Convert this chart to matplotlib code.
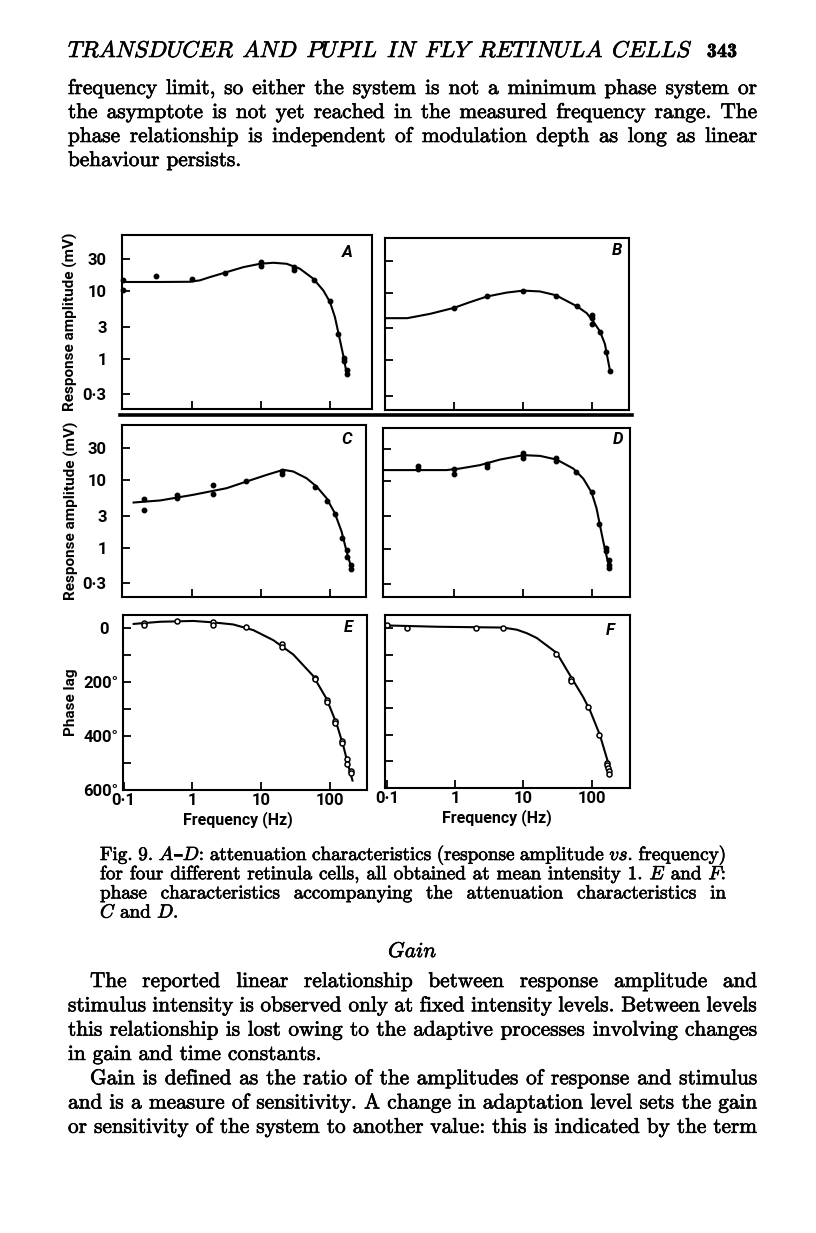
import matplotlib
matplotlib.use("Agg")
import matplotlib.pyplot as plt
import matplotlib.patheffects as pe
from matplotlib.lines import Line2D
from matplotlib.ticker import NullLocator

# values (frequency in Hz, amplitude in mV, phase in deg)
a_freq = [0.1, 0.1, 0.3, 1, 3, 10, 10, 30, 30, 60, 100, 130, 160, 160, 180, 180]
a_amp = [14.6, 10.6, 16.9, 15.4, 18.7, 27.2, 23.5, 22.9, 20.9, 14.6, 7.2, 2.36, 1.04, 0.92, 0.69, 0.59]
a_fit_freq = [0.097, 0.35, 0.95, 1.32, 1.84, 3.2, 5.6, 9.8, 15.3, 23.8, 37, 58, 81, 101, 119, 141, 161, 176]
a_fit_amp = [13.8, 13.8, 13.9, 14.6, 16.3, 19.3, 22.9, 25.7, 26.6, 25.7, 21.7, 15.4, 10.3, 6.95, 4.17, 1.88, 1.0, 0.6]

b_freq = [1, 3, 10, 30, 60, 100, 100, 100, 130, 160, 180]
b_amp = [6.0, 8.9, 10.7, 9.1, 6.3, 4.7, 4.3, 3.4, 2.67, 1.32, 0.69]
b_fit_freq = [0.1, 0.21, 0.45, 1.0, 1.7, 3.0, 5.8, 10.1, 17.6, 30, 61, 84, 104, 131, 154, 182]
b_fit_amp = [4.22, 4.22, 4.89, 6.0, 7.28, 8.83, 10.1, 10.8, 10.5, 9.23, 6.3, 5.0, 3.8, 2.67, 1.75, 0.71]

c_freq = [0.2, 0.2, 0.6, 0.6, 2, 2, 6, 20, 20, 60, 90, 120, 150, 180, 180, 200, 200]
c_amp = [5.35, 3.67, 6.0, 5.47, 8.6, 6.3, 9.67, 13.6, 12.4, 7.96, 4.89, 3.16, 1.43, 0.94, 0.73, 0.56, 0.49]
c_fit_freq = [0.14, 0.34, 1.03, 3.15, 6.16, 12.0, 21, 29.3, 45.8, 64, 89.5, 118, 148, 175, 206]
c_fit_amp = [4.72, 5.06, 6.14, 7.69, 9.67, 12.1, 14.4, 13.6, 10.8, 8.15, 5.47, 3.28, 1.75, 0.89, 0.50]

d_freq = [0.3, 0.3, 1, 1, 3, 3, 10, 10, 10, 30, 30, 60, 100, 130, 160, 160, 180, 180, 180]
d_amp = [16.9, 15.4, 14.9, 12.6, 17.7, 16.3, 26.6, 24.3, 21.7, 22.2, 19.8, 13.8, 6.8, 2.28, 1.03, 0.92, 0.68, 0.58, 0.52]
d_fit_freq = [0.094, 0.78, 1.22, 2.39, 4.66, 10.2, 17.8, 31, 54, 75.7, 100, 118, 132, 148, 181]
d_fit_amp = [14.6, 14.6, 15.4, 17.3, 20.9, 24.3, 23.7, 20.9, 15.4, 10.9, 6.8, 3.94, 2.23, 1.26, 0.51]

e_freq = [0.2, 0.2, 0.6, 2, 2, 6, 20, 20, 60, 60, 90, 90, 120, 120, 150, 150, 180, 180, 200, 200]
e_phase = [-16, -10, -25, -20, -10, -4, 62, 73, 186, 190, 266, 275, 345, 351, 417, 425, 487, 503, 528, 537]
e_fit_freq = [0.14, 0.34, 1.03, 1.95, 3.94, 7.7, 15, 29.3, 57, 89, 125, 156, 185, 213]
e_fit_phase = [-14, -22, -25, -20, -12, 9, 46, 99, 178, 262, 355, 435, 510, 565]

f_freq = [0.1, 0.2, 2, 5, 30, 50, 50, 90, 130, 170, 170, 175, 180, 180]
f_phase = [-9, -1, -1, -1, 97, 192, 198, 297, 401, 506, 515, 524, 537, 549]
f_fit_freq = [0.095, 0.54, 5, 8, 11.2, 15.7, 30.8, 51, 75.5, 94.6, 132, 175]
f_fit_phase = [-9, -4, -1, 7, 20, 38, 94, 188, 260, 309, 401, 506]

amp_ticks = [0.3, 1, 3, 10, 30]
amp_labels = ['0·3', '1', '3', '10', '30']
phase_ticks = [0, 100, 200, 300, 400, 500, 600]
phase_labels = ['0  ', '', '200°', '', '400°', '', '600°']
freq_ticks = [0.1, 1, 10, 100]
freq_labels = ['0·1', '1', '10', '100']

header = "TRANSDUCER AND PUPIL IN FLY RETINULA CELLS"
page_no = "343"
top_lines = [
    "frequency limit, so either the system is not a minimum phase system or",
    "the asymptote is not yet reached in the measured frequency range. The",
    "phase relationship is independent of modulation depth as long as linear",
    "behaviour persists.",
]
caption_lines = [
    "Fig. 9. _A_–_D_: attenuation characteristics (response amplitude _vs_. frequency)",
    "for four different retinula cells, all obtained at mean intensity 1. _E_ and _F_:",
    "phase characteristics accompanying the attenuation characteristics in",
    "_C_ and _D_.",
]
bottom_lines = [
    "The reported linear relationship between response amplitude and",
    "stimulus intensity is observed only at fixed intensity levels. Between levels",
    "this relationship is lost owing to the adaptive processes involving changes",
    "in gain and time constants.",
    "Gain is defined as the ratio of the amplitudes of response and stimulus",
    "and is a measure of sensitivity. A change in adaptation level sets the gain",
    "or sensitivity of the system to another value: this is indicated by the term",
]
bottom_indent = [22, 0, 0, 0, 22, 0, 0]
bottom_justify = [True, True, True, False, True, True, True]

W, H = 816, 1233
plt.rcParams['font.family'] = ['Roboto', 'DejaVu Sans']
plt.rcParams['font.weight'] = 'bold'
plt.rcParams['axes.labelweight'] = 'bold'
plt.rcParams['axes.linewidth'] = 1.5

fig = plt.figure(figsize=(W / 100, H / 100), dpi=100)
renderer = fig.canvas.get_renderer()

ROMAN = ['cmr10', 'DejaVu Serif']
ITAL = ['cmmi10', 'DejaVu Serif']
INK = [pe.withStroke(linewidth=0.45, foreground='black')]
_wc = {}


def run_w(s, it, size):
    key = (s, it, size)
    if key not in _wc:
        t = fig.text(0, 0, s, fontsize=size, family=ITAL if it else ROMAN, weight='normal')
        _wc[key] = t.get_window_extent(renderer).width
        t.remove()
    return _wc[key]


def parse(word):
    parts = word.split('_')
    return [(p, i % 2 == 1) for i, p in enumerate(parts) if p]


def word_w(runs, size):
    return sum(run_w(s, it, size) for s, it in runs)


def natural(line, size):
    words = [parse(w) for w in line.split()]
    return sum(word_w(w, size) for w in words) + (len(words) - 1) * size * 100 / 72 * 0.333


def draw_line(line, x0, x1, base, size, justify=True):
    words = [parse(w) for w in line.split()]
    widths = [word_w(w, size) for w in words]
    gap = size * 100 / 72 * 0.333
    if justify and len(words) > 1:
        gap = (x1 - x0 - sum(widths)) / (len(words) - 1)
    x = x0
    for runs, wd in zip(words, widths):
        xx = x
        for s, it in runs:
            fig.text(xx / W, 1 - base / H, s, fontsize=size, va='baseline', ha='left',
                     family=ITAL if it else ROMAN, weight='normal', path_effects=INK)
            xx += run_w(s, it, size)
        x += wd + gap


def fit_size(lines, avail):
    r = max(natural(l, 10) / a for l, a in zip(lines, avail))
    return round(10 / r * 1.01, 2)


# body text size from the justified lines
tx0, tx1 = 68, 757
just_body = top_lines[:3] + [l for l, j in zip(bottom_lines, bottom_justify) if j]
avail = [tx1 - tx0] * 3 + [tx1 - tx0 - ind for ind, j in zip(bottom_indent, bottom_justify) if j]
body_size = fit_size(just_body, avail)

cx0, cx1 = 100, 726
cap_size = fit_size(caption_lines[:3], [cx1 - cx0] * 3)

# running head in italic capitals
head = ' '.join('_' + w + '_' for w in header.split())
head_size = fit_size([head], [690 - tx0]) * 0.97
draw_line(head, tx0, 690, 57, head_size, justify=True)
fig.text(737 / W, 1 - 57 / H, page_no, fontsize=body_size * 0.95, family=['cmb10', 'DejaVu Serif'],
         weight='normal', va='baseline', ha='right', path_effects=INK)

for i, l in enumerate(top_lines):
    draw_line(l, tx0, tx1, 94 + 24 * i, body_size, justify=(i < 3))

for i, l in enumerate(caption_lines):
    draw_line(l, cx0, cx1, 860 + 19.2 * i, cap_size, justify=(i < 3))

fig.text(412 / W, 1 - 957 / H, "Gain", fontsize=body_size, family=ITAL, weight='normal',
         ha='center', va='baseline', path_effects=INK)

for i, l in enumerate(bottom_lines):
    draw_line(l, tx0 + bottom_indent[i], tx1, 987 + 24.3 * i, body_size, justify=bottom_justify[i])


# ---- panels ----
def make_axes(l, t, r, b):
    ax = fig.add_axes([l / W, 1 - b / H, (r - l) / W, (b - t) / H])
    ax.tick_params(direction='in', length=5.5, width=1.3, top=False, right=False,
                   labelsize=12)
    return ax


def amp_panel(rect, xlim, ylim, freq, amp, ffreq, famp, letter, lpos, labels):
    ax = make_axes(*rect)
    ax.set_xscale('log')
    ax.set_yscale('log')
    ax.plot(ffreq, famp, color='k', lw=1.5)
    ax.plot(freq, amp, 'o', color='k', ms=3.2, clip_on=False)
    ax.set_xlim(*xlim)
    ax.set_ylim(*ylim)
    ax.set_xticks([1, 10, 100])
    ax.set_xticklabels([])
    ax.set_yticks(amp_ticks)
    ax.set_yticklabels(amp_labels if labels else [])
    ax.xaxis.set_minor_locator(NullLocator())
    ax.yaxis.set_minor_locator(NullLocator())
    ax.tick_params(axis='y', pad=11)
    ax.text(lpos[0], lpos[1], letter, transform=ax.transAxes, fontsize=12,
            style='italic', weight='bold', ha='center', va='center')
    if labels:
        ax.set_ylabel('Response amplitude (mV)', fontsize=11)
        ax.yaxis.set_label_coords(-0.178, 0.5)
    return ax


def phase_panel(rect, xlim, ylim, freq, ph, ffreq, fph, letter, lpos, labels, xlab_x):
    ax = make_axes(*rect)
    ax.set_xscale('log')
    ax.plot(ffreq, fph, color='k', lw=1.5)
    ax.plot(freq, ph, 'o', color='k', mfc='white', mew=1.1, ms=3.6, clip_on=False)
    ax.set_xlim(*xlim)
    ax.set_ylim(*ylim)
    ax.set_xticks(freq_ticks)
    ax.set_xticklabels(freq_labels)
    ax.set_yticks(phase_ticks)
    ax.set_yticklabels(phase_labels if labels else [])
    ax.xaxis.set_minor_locator(NullLocator())
    ax.tick_params(axis='y', pad=3.5)
    ax.tick_params(axis='x', pad=2.5)
    ax.set_xlabel('Frequency (Hz)', fontsize=11.5)
    ax.xaxis.set_label_coords(xlab_x, -0.122)
    ax.text(lpos[0], lpos[1], letter, transform=ax.transAxes, fontsize=12,
            style='italic', weight='bold', ha='center', va='center')
    if labels:
        ax.set_ylabel('Phase lag', fontsize=11)
        ax.yaxis.set_label_coords(-0.184, 0.5)
    return ax


amp_panel((122, 235, 372, 409), (0.098, 410), (0.18, 68.7), a_freq, a_amp,
          a_fit_freq, a_fit_amp, 'A', (0.90, 0.90), True)
amp_panel((385, 238, 629, 410), (0.1, 344), (0.184, 65), b_freq, b_amp,
          b_fit_freq, b_fit_amp, 'B', (0.951, 0.93), False)
amp_panel((122, 425, 366, 597), (0.095, 335), (0.188, 66.4), c_freq, c_amp,
          c_fit_freq, c_fit_amp, 'C', (0.922, 0.913), True)
amp_panel((383, 428, 630, 597), (0.093, 361), (0.192, 61.4), d_freq, d_amp,
          d_fit_freq, d_fit_amp, 'D', (0.951, 0.929), False)
phase_panel((123, 615, 367, 790), (0.098, 346), (600, -47), e_freq, e_phase,
            e_fit_freq, e_fit_phase, 'E', (0.922, 0.926), True, 0.47)
phase_panel((385, 615, 630, 788), (0.094, 365), (592.6, -48), f_freq, f_phase,
            f_fit_freq, f_fit_phase, 'F', (0.918, 0.913), False, 0.456)

# thick rule between the A/B and C/D rows
fig.add_artist(Line2D([120 / W, 632 / W], [1 - 415 / H, 1 - 415 / H], color='k', lw=2.6))

fig.savefig('out.png', dpi=100, facecolor='white')
